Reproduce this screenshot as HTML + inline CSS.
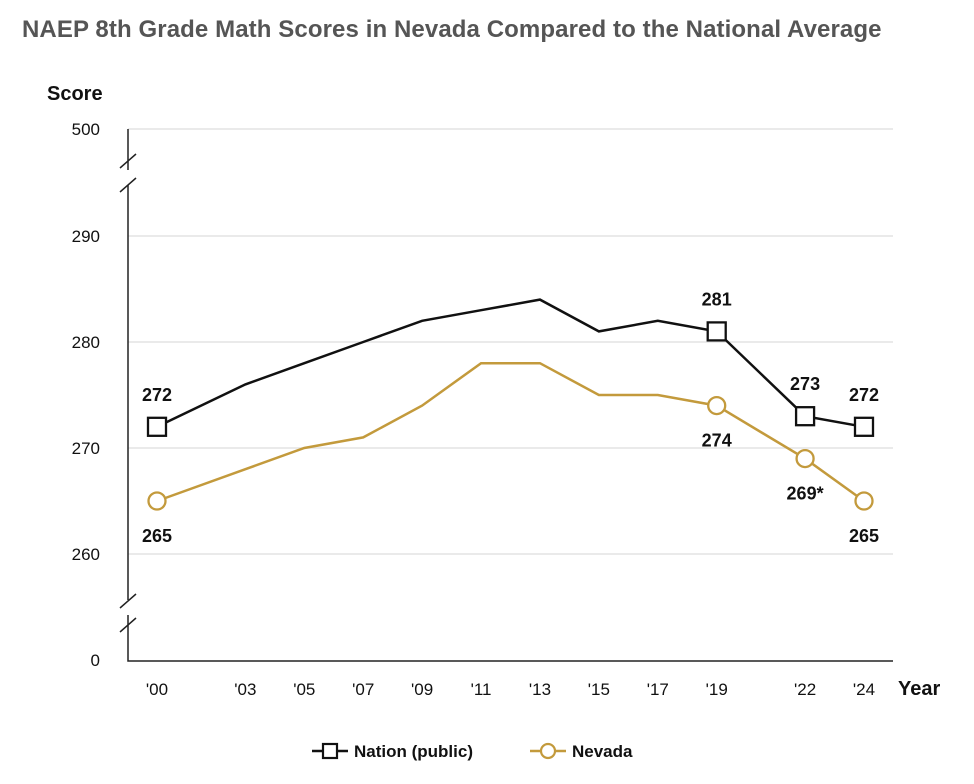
<!DOCTYPE html>
<html><head><meta charset="utf-8"><style>
body{margin:0;background:#fff;font-family:"Liberation Sans",sans-serif;}
#wrap{position:relative;width:974px;height:779px;}
</style></head><body>
<div id="wrap">
<svg id="chart" width="974" height="779"></svg>
</div>
<script>
const years=[2000,2003,2005,2007,2009,2011,2013,2015,2017,2019,2022,2024];
const tickLabels=["'00","'03","'05","'07","'09","'11","'13","'15","'17","'19","'22","'24"];
const nation=[272,276,278,280,282,283,284,281,282,281,273,272];
const nevada=[265,268,270,271,274,278,278,275,275,274,269,265];
const yTicks=[260,270,280,290];
const markedYears=[2000,2019,2022,2024];
const nationLabels=["272","281","273","272"];
const nevadaLabels=["265","274","269*","265"];

const NS="http://www.w3.org/2000/svg";
const svg=document.getElementById('chart');
function x(yr){return 157+(yr-2000)*(864-157)/24;}
function y(v){return 342-(v-280)*10.6;}
function el(tag,attrs,parent){const e=document.createElementNS(NS,tag);for(const k in attrs)e.setAttribute(k,attrs[k]);(parent||svg).appendChild(e);return e;}
function txt(s,attrs){const t=el('text',attrs);t.textContent=s;return t;}

const title=txt("NAEP 8th Grade Math  Scores in Nevada Compared to the National Average",{x:22,y:37,'font-size':24,'font-weight':'bold',fill:'#555','letter-spacing':'0.1'});

const yt=txt("Score",{x:47,y:100,'font-size':20,'font-weight':'bold',fill:'#111'});

const xt=txt("Year",{x:898,y:695,'font-size':20,'font-weight':'bold',fill:'#111'});


[129].concat(yTicks.map(y)).forEach((gy,i)=>{
  const g=el('line',{x1:128,x2:893,y1:gy,y2:gy,stroke:'#e3e3e3','stroke-width':1.5});
  
});
const allTicks=[["500",129]].concat(yTicks.map(v=>[String(v),y(v)])).concat([["0",660]]);
allTicks.forEach(([s,ty])=>{
  const t=txt(s,{x:100,y:ty+6,'font-size':17,'text-anchor':'end',fill:'#111'});
  
});
const ax=el('path',{d:'M128,129 V170 M128,185 V600 M128,615 V661 H893',stroke:'#222','stroke-width':1.5,fill:'none'});

[[160,170],[600,610]].forEach(([a,b])=>{
  const br=el('path',{d:`M120,${a+8} L136,${a-6} M120,${b+22} L136,${b+8}`,stroke:'#222','stroke-width':1.5,fill:'none'});
  
});
years.forEach((yr,i)=>{
  const t=txt(tickLabels[i],{x:x(yr),y:695,'font-size':17,'text-anchor':'middle',fill:'#111'});
  
});

function series(data,color,name){
  const p=el('polyline',{points:years.map((yr,i)=>x(yr)+','+y(data[i])).join(' '),fill:'none',stroke:color,'stroke-width':2.5});
  
}
series(nation,'#111','nation');
series(nevada,'#c39a3c','nevada');

markedYears.forEach((yr,k)=>{
  const i=years.indexOf(yr);
  const nx=x(yr),ny=y(nation[i]);
  const s=el('rect',{x:nx-9,y:ny-9,width:18,height:18,fill:'#fff',stroke:'#111','stroke-width':2.3});
  
  const nl=txt(nationLabels[k],{x:nx,y:ny-26,'font-size':18,'font-weight':'bold','text-anchor':'middle',fill:'#111'});
  
  const vy=y(nevada[i]);
  const c=el('circle',{cx:nx,cy:vy,r:8.5,fill:'#fff',stroke:'#c39a3c','stroke-width':2.3});
  
  const vl=txt(nevadaLabels[k],{x:nx,y:vy+41,'font-size':18,'font-weight':'bold','text-anchor':'middle',fill:'#111'});
  
});

const lg=el('g',{});

el('line',{x1:312,x2:348,y1:751,y2:751,stroke:'#111','stroke-width':2.5},lg);
const r1=el('rect',{x:323,y:744,width:14,height:14,fill:'#fff',stroke:'#111','stroke-width':2.2},lg);

const t1=txt("Nation (public)",{x:354,y:757,'font-size':17,'font-weight':'bold',fill:'#111'});

el('line',{x1:530,x2:566,y1:751,y2:751,stroke:'#c39a3c','stroke-width':2.5},lg);
const c1=el('circle',{cx:548,cy:751,r:7,fill:'#fff',stroke:'#c39a3c','stroke-width':2.2},lg);

const t2=txt("Nevada",{x:572,y:757,'font-size':17,'font-weight':'bold',fill:'#111'});

</script>
</body></html>
